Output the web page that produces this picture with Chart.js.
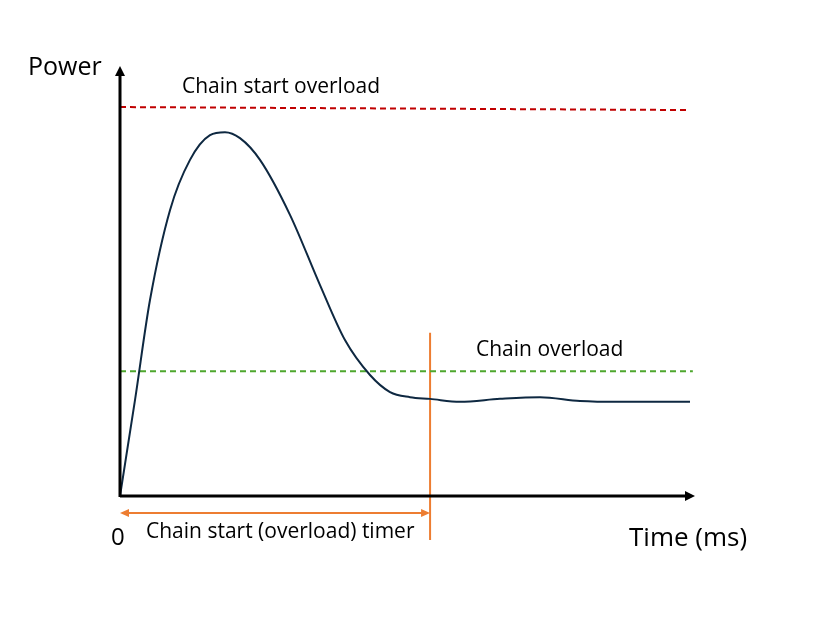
<!DOCTYPE html>
<html>
<head>
<meta charset="utf-8">
<script src="https://cdn.jsdelivr.net/npm/chart.js@4"></script>
<style>
  html, body { margin: 0; padding: 0; background: #fff; }
  #wrap { width: 831px; height: 621px; }
</style>
</head>
<body>
<div id="wrap"><canvas id="c" width="831" height="621"></canvas></div>
<script>
// curve (x: time 0..100, y: power 0..100)
const timeX = [0, 2.63, 5.26, 8.77, 12.28, 15.79, 18.42, 21.05, 24.56, 29.82, 35.09, 39.47, 43.86, 47.37, 50.88, 54.39, 59.65, 66.67, 73.68, 80.7, 87.72, 100];
const powerY = [0, 22.5, 46.0, 67.1, 78.9, 84.7, 85.4, 84.0, 78.9, 66.0, 49.5, 36.6, 28.4, 24.4, 23.2, 22.8, 22.1, 22.8, 23.2, 22.3, 22.1, 22.1];
const startOverload = [91.3, 90.6];
const chainOverload = 29.3;
const timerEnd = 54.4;
const timerLineY = [38.3, -10.3];
const labels = ['Power', 'Chain start overload', 'Chain overload', '0', 'Chain start (overload) timer', 'Time (ms)'];

const FONT = '"Open Sans", "Liberation Sans", sans-serif';

const decor = {
  id: 'decor',
  afterDatasetsDraw(chart) {
    const ctx = chart.ctx;
    const xs = chart.scales.x, ys = chart.scales.y;
    const X = v => xs.getPixelForValue(v), Y = v => ys.getPixelForValue(v);
    const x0 = X(0), y0 = Y(0);
    ctx.save();
    // axes
    ctx.strokeStyle = '#000'; ctx.fillStyle = '#000'; ctx.lineWidth = 3;
    ctx.beginPath(); ctx.moveTo(x0, y0); ctx.lineTo(X(100) - 4, y0); ctx.stroke();
    ctx.beginPath(); ctx.moveTo(x0, y0 + 1); ctx.lineTo(x0, Y(100) + 4); ctx.stroke();
    ctx.beginPath(); ctx.moveTo(X(100) + 5, y0); ctx.lineTo(X(100) - 5, y0 - 5); ctx.lineTo(X(100) - 5, y0 + 5); ctx.fill();
    ctx.beginPath(); ctx.moveTo(x0, Y(100) - 4); ctx.lineTo(x0 - 5, Y(100) + 6); ctx.lineTo(x0 + 5, Y(100) + 6); ctx.fill();
    // timer arrow
    const ta = Y(-4), tb = X(timerEnd);
    ctx.strokeStyle = '#ed7d31'; ctx.fillStyle = '#ed7d31'; ctx.lineWidth = 2;
    ctx.beginPath(); ctx.moveTo(x0 + 6, ta); ctx.lineTo(tb - 6, ta); ctx.stroke();
    ctx.beginPath(); ctx.moveTo(x0, ta); ctx.lineTo(x0 + 9, ta - 4); ctx.lineTo(x0 + 9, ta + 4); ctx.fill();
    ctx.beginPath(); ctx.moveTo(tb, ta); ctx.lineTo(tb - 9, ta - 4); ctx.lineTo(tb - 9, ta + 4); ctx.fill();
    // texts
    ctx.fillStyle = '#000'; ctx.textBaseline = 'middle'; ctx.textAlign = 'left';
    ctx.font = '25px ' + FONT; ctx.fillText(labels[0], 28, 68);
    ctx.font = '21px ' + FONT; ctx.fillText(labels[1], 182, 87);
    ctx.fillText(labels[2], 476, 350);
    ctx.font = '24px ' + FONT; ctx.fillText(labels[3], 111, 538);
    ctx.font = '21px ' + FONT; ctx.fillText(labels[4], 146, 532);
    ctx.font = '26px ' + FONT; ctx.fillText(labels[5], 629, 539);
    ctx.restore();
  }
};

new Chart(document.getElementById('c'), {
  type: 'line',
  data: {
    datasets: [
      { data: timeX.map((x, i) => ({ x, y: powerY[i] })), borderColor: '#0e2841', borderWidth: 2, pointRadius: 0, cubicInterpolationMode: 'monotone', clip: false },
      { data: [{ x: 0, y: startOverload[0] }, { x: 100, y: startOverload[1] }], borderColor: '#c00000', borderWidth: 2, borderDash: [6, 4], pointRadius: 0, clip: false },
      { data: [{ x: 0, y: chainOverload }, { x: 100.5, y: chainOverload }], borderColor: '#4ea72e', borderWidth: 2, borderDash: [6, 4], pointRadius: 0, clip: false },
      { data: [{ x: timerEnd, y: timerLineY[0] }, { x: timerEnd, y: timerLineY[1] }], borderColor: '#ed7d31', borderWidth: 2, pointRadius: 0, clip: false }
    ]
  },
  options: {
    responsive: false, animation: false,
    layout: { padding: { left: 120, right: 141, top: 70, bottom: 125 } },
    scales: {
      x: { type: 'linear', min: 0, max: 100, display: false },
      y: { min: 0, max: 100, display: false }
    },
    plugins: { legend: { display: false }, tooltip: { enabled: false } }
  },
  plugins: [decor]
});
</script>
</body>
</html>
